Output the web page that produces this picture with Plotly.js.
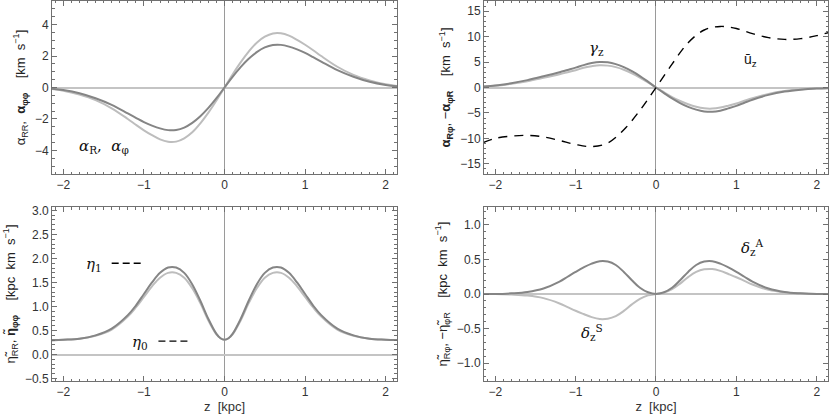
<!DOCTYPE html>
<html>
<head>
<meta charset="utf-8">
<script src="https://cdn.plot.ly/plotly-3.0.1.min.js"></script>
<style>
  html, body { margin: 0; padding: 0; background: #fff; }
  #chart { width: 830px; height: 415px; }
</style>
</head>
<body>
<div id="chart"></div>
<script>
// shared z grid (kpc)
const zGrid = [-2.15, -2.0, -1.8, -1.6, -1.4, -1.2, -1.1, -1.0, -0.9, -0.8, -0.7, -0.6, -0.5, -0.4, -0.3, -0.2, -0.1, 0,
               0.1, 0.2, 0.3, 0.4, 0.5, 0.6, 0.7, 0.8, 0.9, 1.0, 1.1, 1.2, 1.4, 1.6, 1.8, 2.0, 2.15];

// alpha_RR / alpha_phiphi (top left)
const alphaRR = [-0.07, -0.16, -0.36, -0.68, -1.1, -1.65, -1.93, -2.2, -2.42, -2.6, -2.71, -2.7, -2.55, -2.25, -1.83, -1.3, -0.68, 0,
                 0.68, 1.3, 1.83, 2.25, 2.55, 2.7, 2.71, 2.6, 2.42, 2.2, 1.93, 1.65, 1.1, 0.68, 0.36, 0.16, 0.07];
const alphaPP = [-0.09, -0.2, -0.45, -0.8, -1.32, -2.0, -2.37, -2.72, -3.03, -3.3, -3.45, -3.44, -3.23, -2.85, -2.28, -1.6, -0.83, 0,
                 0.83, 1.6, 2.28, 2.85, 3.23, 3.44, 3.45, 3.3, 3.03, 2.72, 2.37, 2.0, 1.32, 0.8, 0.45, 0.2, 0.09];

// gamma_z (top right)
const gammaDark = [0.2, 0.38, 0.85, 1.45, 2.2, 3.0, 3.45, 3.9, 4.4, 4.8, 5.02, 4.95, 4.6, 4.0, 3.2, 2.25, 1.15, 0,
                   -1.1, -2.15, -3.05, -3.8, -4.35, -4.7, -4.78, -4.55, -4.1, -3.6, -3.0, -2.4, -1.45, -0.8, -0.42, -0.2, -0.12];
const gammaLight = [0.17, 0.33, 0.74, 1.25, 1.9, 2.6, 3.0, 3.4, 3.88, 4.18, 4.37, 4.3, 4.0, 3.5, 2.8, 1.95, 1.0, 0,
                    -0.95, -1.87, -2.65, -3.3, -3.8, -4.1, -4.15, -3.95, -3.57, -3.13, -2.6, -2.1, -1.26, -0.7, -0.36, -0.17, -0.1];

// mean u_z (top right, dashed)
const zU = [-2.15, -2.0, -1.8, -1.6, -1.4, -1.2, -1.0, -0.8, -0.6, -0.4, -0.2, 0, 0.2, 0.4, 0.6, 0.8, 1.0, 1.2, 1.4, 1.6, 1.8, 2.0, 2.15];
const uBar = [-10.8, -10.0, -9.55, -9.4, -9.7, -10.4, -11.2, -11.6, -10.9, -8.3, -4.5, 0, 4.6, 8.8, 11.3, 12.0, 11.6, 10.6, 9.8, 9.45, 9.6, 10.2, 10.8];

// eta_RR / eta_phiphi (bottom left)
const zEta = [-2.15, -2.0, -1.8, -1.6, -1.4, -1.2, -1.1, -1.0, -0.9, -0.8, -0.7, -0.6, -0.5, -0.4, -0.3, -0.2, -0.1, -0.05, 0,
              0.05, 0.1, 0.2, 0.3, 0.4, 0.5, 0.6, 0.7, 0.8, 0.9, 1.0, 1.1, 1.2, 1.4, 1.6, 1.8, 2.0, 2.15];
const etaRR = [0.3, 0.31, 0.33, 0.4, 0.54, 0.82, 1.02, 1.26, 1.5, 1.7, 1.81, 1.81, 1.7, 1.46, 1.12, 0.74, 0.43, 0.34, 0.31,
               0.34, 0.43, 0.74, 1.12, 1.46, 1.7, 1.81, 1.81, 1.7, 1.5, 1.26, 1.02, 0.82, 0.54, 0.4, 0.33, 0.31, 0.3];
const etaPP = [0.3, 0.31, 0.33, 0.39, 0.52, 0.79, 0.98, 1.2, 1.42, 1.6, 1.7, 1.7, 1.6, 1.38, 1.07, 0.71, 0.42, 0.34, 0.31,
               0.34, 0.42, 0.71, 1.07, 1.38, 1.6, 1.7, 1.7, 1.6, 1.42, 1.2, 0.98, 0.79, 0.52, 0.39, 0.33, 0.31, 0.3];
const eta1Level = 1.9, eta0Level = 0.28;
const eta1Dash = [-1.4, -1.0], eta0Dash = [-0.82, -0.42];

// delta_z (bottom right)
const deltaA = [0, 0, 0.01, 0.03, 0.08, 0.18, 0.25, 0.32, 0.385, 0.44, 0.475, 0.47, 0.42, 0.32, 0.2, 0.09, 0.025, 0,
                0.025, 0.09, 0.2, 0.32, 0.42, 0.47, 0.475, 0.44, 0.385, 0.32, 0.25, 0.18, 0.08, 0.03, 0.01, 0, 0];
const deltaS = [0, 0, -0.008, -0.023, -0.06, -0.137, -0.19, -0.243, -0.29, -0.335, -0.362, -0.357, -0.32, -0.245, -0.15, -0.07, -0.02, 0,
                0.02, 0.07, 0.15, 0.245, 0.32, 0.357, 0.362, 0.335, 0.29, 0.243, 0.19, 0.137, 0.06, 0.023, 0.008, 0, 0];

const xTicks = [-2, -1, 0, 1, 2];

const DARK = '#858585';
const LIGHT = '#bdbdbd';
const FRAME = '#707070';
const FONT = 'Liberation Sans, Arial, sans-serif';

function curve(x, y, color, xa, ya, dash) {
    return {
        x: x, y: y, xaxis: xa, yaxis: ya,
        mode: 'lines', type: 'scatter', hoverinfo: 'skip',
        line: {color: color, width: dash ? 1.4 : 2, shape: 'spline', smoothing: 1, dash: dash || 'solid'}
    };
}

function xAxis(domain, anchor, title) {
    return {
        domain: domain, anchor: anchor, range: [-2.14, 2.14],
        tickvals: xTicks, ticks: 'inside', ticklen: 5, tickcolor: FRAME,
        minor: {dtick: 0.1, ticklen: 2.5, tickcolor: FRAME, ticks: 'inside'},
        showline: true, linecolor: FRAME, linewidth: 1, mirror: 'allticks',
        showgrid: false, zeroline: true, zerolinecolor: '#9a9a9a', zerolinewidth: 1,
        tickfont: {family: FONT, size: 12, color: '#333'},
        title: {text: title || '', font: {family: FONT, size: 13, color: '#333'}, standoff: 2},
        automargin: false
    };
}

function yAxis(domain, anchor, range, dtick, minor, fmt, title) {
    return {
        domain: domain, anchor: anchor, range: range, dtick: dtick, tick0: 0,
        tickformat: fmt, ticks: 'inside', ticklen: 5, tickcolor: FRAME,
        minor: {dtick: minor, ticklen: 2.5, tickcolor: FRAME, ticks: 'inside'},
        showline: true, linecolor: FRAME, linewidth: 1, mirror: 'allticks',
        showgrid: false, zeroline: true, zerolinecolor: '#c4c4c4', zerolinewidth: 2,
        tickfont: {family: FONT, size: 12, color: '#333'},
        title: {text: title, font: {family: FONT, size: 13, color: '#222'}, standoff: 6},
        automargin: false
    };
}

const xLeft = [0.0627, 0.4783], xRight = [0.5831, 0.9976];
const yTop = [0.5807, 0.9976], yBot = [0.0819, 0.5012];

const data = [
    curve(zGrid, alphaPP, LIGHT, 'x', 'y'),
    curve(zGrid, alphaRR, DARK, 'x', 'y'),
    curve(zGrid, gammaLight, LIGHT, 'x2', 'y2'),
    curve(zGrid, gammaDark, DARK, 'x2', 'y2'),
    curve(zU, uBar, '#000', 'x2', 'y2', '9px,7px'),
    curve(zEta, etaPP, LIGHT, 'x3', 'y3'),
    curve(zEta, etaRR, DARK, 'x3', 'y3'),
    curve(eta1Dash, [eta1Level, eta1Level], '#000', 'x3', 'y3', '7px,4px'),
    curve(eta0Dash, [eta0Level, eta0Level], '#000', 'x3', 'y3', '7px,4px'),
    curve(zGrid, deltaS, LIGHT, 'x4', 'y4'),
    curve(zGrid, deltaA, DARK, 'x4', 'y4')
];

function label(text, x, y, xref, yref, size) {
    return {text: text, x: x, y: y, xref: xref, yref: yref, showarrow: false,
            font: {family: 'DejaVu Serif, serif', size: size || 15, color: '#111'}};
}

const layout = {
    width: 830, height: 415,
    margin: {l: 0, r: 0, t: 0, b: 0},
    paper_bgcolor: '#fff', plot_bgcolor: '#fff',
    showlegend: false,
    xaxis: xAxis(xLeft, 'y'),
    yaxis: yAxis(yTop, 'x', [-5.5, 5.5], 2, 0.5, '', 'α<sub>RR</sub>,  <b>α<sub>φφ</sub></b>    [km  s<sup>−1</sup>]'),
    xaxis2: xAxis(xRight, 'y2'),
    yaxis2: yAxis(yTop, 'x2', [-17, 17], 5, 1, '', '<b>α<sub>Rφ</sub></b>, −<b>α<sub>φR</sub></b>    [km  s<sup>−1</sup>]'),
    xaxis3: xAxis(xLeft, 'y3', 'z  [kpc]'),
    yaxis3: yAxis(yBot, 'x3', [-0.55, 3.07], 0.5, 0.1, '.1f', 'η̃<sub>RR</sub>, <b>η̃<sub>φφ</sub></b>    [kpc  km  s<sup>−1</sup>]'),
    xaxis4: xAxis(xRight, 'y4', 'z  [kpc]'),
    yaxis4: yAxis(yBot, 'x4', [-1.26, 1.26], 0.5, 0.1, '.1f', 'η̃<sub>Rφ</sub>, −η̃<sub>φR</sub>    [kpc  km  s<sup>−1</sup>]'),
    annotations: [
        label('<i>α</i><sub>R</sub>,  <i>α</i><sub>φ</sub>', -1.5, -3.75, 'x', 'y'),
        label('<i>γ</i><sub>z</sub>', -0.74, 7.6, 'x2', 'y2'),
        label('<span style="font-family:Liberation Sans">ū<sub>z</sub></span>', 1.18, 5.4, 'x2', 'y2', 14),
        label('<i>η</i><sub>1</sub>', -1.62, 1.88, 'x3', 'y3'),
        label('<i>η</i><sub>0</sub>', -1.05, 0.25, 'x3', 'y3'),
        label('<i>δ</i><sub>z</sub><sup>A</sup>', 1.2, 0.68, 'x4', 'y4'),
        label('<i>δ</i><sub>z</sub><sup>S</sup>', -0.8, -0.56, 'x4', 'y4')
    ]
};

Plotly.newPlot('chart', data, layout, {displayModeBar: false, staticPlot: true});
</script>
</body>
</html>
